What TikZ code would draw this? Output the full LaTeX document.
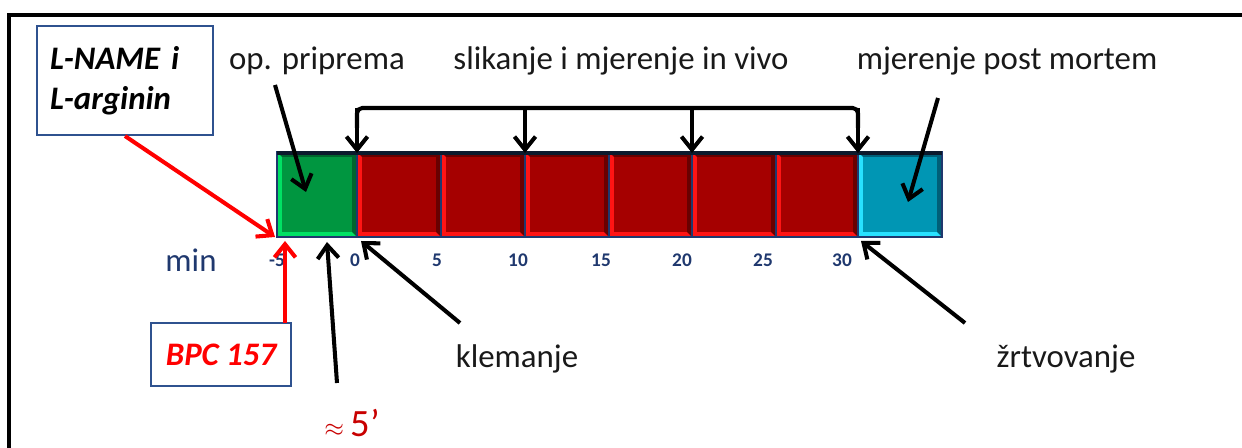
\documentclass[tikz,border=0pt]{standalone}
\usepackage{fontspec}
\setmainfont{Carlito}
\usetikzlibrary{arrows.meta}
\definecolor{navy}{RGB}{31,56,110}
\definecolor{boxblue}{RGB}{47,82,143}
\definecolor{txt}{RGB}{25,25,25}
\definecolor{darkred}{RGB}{200,0,0}
\definecolor{bartop}{RGB}{12,26,45}
\definecolor{grn}{RGB}{0,150,64}
\definecolor{grnlt}{RGB}{0,225,100}
\definecolor{grndk}{RGB}{0,100,45}
\definecolor{rd}{RGB}{165,0,0}
\definecolor{rdlt}{RGB}{255,20,20}
\definecolor{rddk}{RGB}{105,0,0}
\definecolor{cy}{RGB}{0,150,180}
\definecolor{cylt}{RGB}{40,225,255}
\definecolor{cydk}{RGB}{0,95,120}
\begin{document}
\begin{tikzpicture}[x=0.02cm, y=-0.02cm,
    >={Straight Barb[length=7.5pt,width=12pt]},
    lbl/.style={font=\fontsize{18.7}{22.7}\selectfont, text=txt, inner sep=0pt, anchor=base},
    ticklbl/.style={font=\fontsize{11}{13}\selectfont\bfseries, text=navy, inner sep=0pt, anchor=base},
    tagbox/.style={draw=boxblue, line width=1.2pt, fill=white,
      font=\fontsize{18.7}{22.7}\selectfont\bfseries\itshape},
    arr/.style={->, line width=2.3pt},
    redarr/.style={arr, red}]
\useasboundingbox (0,0) rectangle (1242,448);
% frame
\draw[line width=2.4pt] (9,450) -- (9,15) -- (1245,15);
% time bar
\foreach \xa/\xb/\cm/\cl/\cd in {277/357/grn/grnlt/grndk, 357/441/rd/rdlt/rddk,
  441/525/rd/rdlt/rddk, 525/609/rd/rdlt/rddk, 609/692/rd/rdlt/rddk,
  692/776/rd/rdlt/rddk, 776/858/rd/rdlt/rddk, 858/942/cy/cylt/cydk}
{
\fill[\cl] (\xa,152) rectangle (\xb,237);
\fill[\cd] (\xa,152) -- (\xb,152) -- (\xb,237) -- (\xb-5,232) -- (\xb-5,157) -- (\xa+5,157) -- cycle;
\fill[\cm] (\xa+5,157) rectangle (\xb-5,232);
\draw[navy, line width=0.8pt] (\xa,152) rectangle (\xb,237);
}
\draw[bartop, line width=2.6pt] (277,153) -- (942,153);
% time axis
\node[lbl, text=navy] (min) at (191,272) {min};
\foreach \x/\t in {277/-5, 355/0, 437/5, 518/10, 601/15, 682/20, 763/25, 842/30}
{
\node[ticklbl] (t\t) at (\x,267) {\t};
}
% in vivo bracket
\draw[line width=2.3pt, rounded corners=3pt] (357,128) -- (357,108) -- (858,108) -- (858,128);
\foreach \x in {357,525,692,858}
{
\coordinate (s\x) at (\x,108);
\coordinate (e\x) at (\x,153);
\draw[arr] (s\x) -- (e\x);
}
% labels
\node[lbl] (prep) at (317,70) {op. priprema};
\node[lbl] (invivo) at (621,70) {slikanje i mjerenje in vivo};
\node[lbl] (postm) at (1007,70) {mjerenje post mortem};
\node[lbl] (klem) at (517,368) {klemanje};
\node[lbl] (zrtv) at (1066,368) {žrtvovanje};
\node[tagbox, minimum height=2.18cm, text width=3.0cm, inner xsep=0.26cm, align=left]
  (lname) at (125,80.5) {L-NAME i\\L-arginin};
\node[tagbox, minimum height=1.26cm, minimum width=2.8cm, text=red]
  (bpc) at (221,354.5) {BPC 157};
\node[font=\fontsize{22}{26}\selectfont, text=darkred, inner sep=0pt, anchor=base]
  (approx) at (352,437) {{\fontsize{15}{18}\selectfont$\approx$}\,5'};
% pointers
\coordinate (prepA) at (275,85);   \coordinate (prepB) at (306,192);
\coordinate (postA) at (938,98);   \coordinate (postB) at (908,202);
\coordinate (klemA) at (460,323);  \coordinate (klemB) at (361,241);
\coordinate (zrtvA) at (965,323);  \coordinate (zrtvB) at (861,241);
\coordinate (apxA) at (337,383);   \coordinate (apxB) at (327,242);
\coordinate (start) at (275,237);
\coordinate (bpcA) at (285,323);   \coordinate (bpcB) at (285,241);
\draw[arr] (prepA) -- (prepB);
\draw[arr] (postA) -- (postB);
\draw[arr] (klemA) -- (klemB);
\draw[arr] (zrtvA) -- (zrtvB);
\draw[arr] (apxA) -- (apxB);
\draw[redarr] (lname.south) -- (start);
\draw[redarr] (bpcA) -- (bpcB);
\end{tikzpicture}
\end{document}
